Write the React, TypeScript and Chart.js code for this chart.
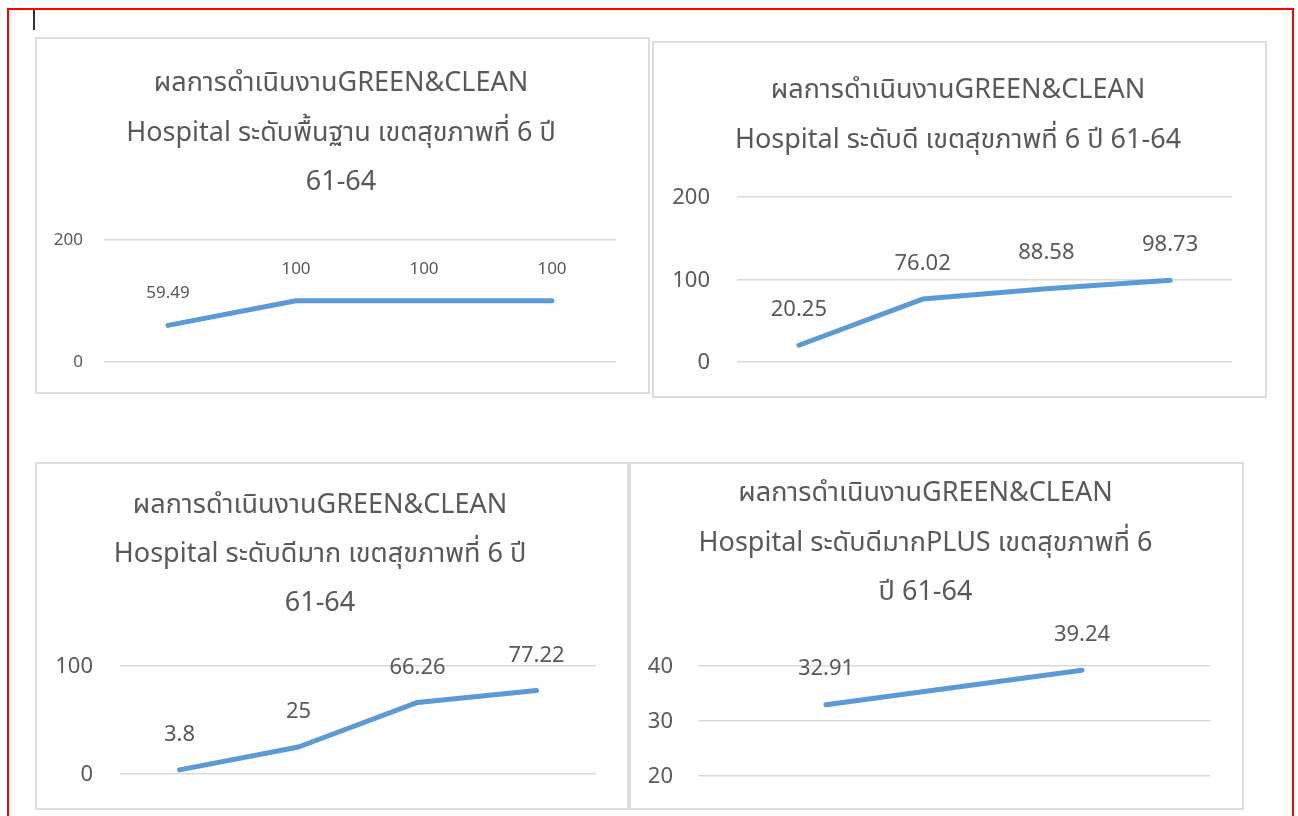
import React, { useEffect, useRef } from "react";
import { Chart, registerables } from "chart.js";

Chart.register(...registerables);

// ---------- data ----------
const yearLabels4 = ["ปี 61", "ปี 62", "ปี 63", "ปี 64"];
const yearLabels2 = ["ปี 63", "ปี 64"];

const basicValues = [59.49, 100, 100, 100];
const goodValues = [20.25, 76.02, 88.58, 98.73];
const veryGoodValues = [3.8, 25, 66.26, 77.22];
const plusValues = [32.91, 39.24];

const basicTitle = ["ผลการดำเนินงานGREEN&CLEAN", "Hospital ระดับพื้นฐาน เขตสุขภาพที่ 6 ปี", "61-64"];
const goodTitle = ["ผลการดำเนินงานGREEN&CLEAN", "Hospital ระดับดี เขตสุขภาพที่ 6 ปี 61-64"];
const veryGoodTitle = ["ผลการดำเนินงานGREEN&CLEAN", "Hospital ระดับดีมาก เขตสุขภาพที่ 6 ปี", "61-64"];
const plusTitle = ["ผลการดำเนินงานGREEN&CLEAN", "Hospital ระดับดีมากPLUS เขตสุขภาพที่ 6", "ปี 61-64"];

const basicTicks = [0, 200, 200]; // min, max, step
const goodTicks = [0, 200, 100];
const veryGoodTicks = [0, 100, 100];
const plusTicks = [20, 40, 10];

// ---------- style ----------
const FONT = '"Noto Sans Thai", "Leelawadee UI", Tahoma, "Liberation Sans", "Noto Sans", sans-serif';
const GRAY = "#595959";
const LINE = "#5B9BD5";

type PanelSpec = {
  left: number;
  top: number;
  width: number;
  height: number;
  labels: string[];
  values: number[];
  title: string[];
  ticks: number[];
  titleSize: number;
  titleLine: number;
  titlePadTop: number;
  titlePadBottom: number;
  axisWidth: number;
  rightAxisWidth: number;
  tickPad: number;
  tickSize: number;
  tickShift: number;
  labelSize: number;
  labelOffset: number;
  padRight: number;
  padBottom: number;
};

function ChartPanel({ spec }: { spec: PanelSpec }) {
  const ref = useRef<HTMLCanvasElement | null>(null);
  useEffect(() => {
    const canvas = ref.current;
    if (!canvas) return;
    const labelPlugin = {
      id: "pointValueLabels",
      afterDatasetsDraw(chart: any) {
        const ctx = chart.ctx;
        const meta = chart.getDatasetMeta(0);
        const data = chart.data.datasets[0].data as number[];
        ctx.save();
        ctx.font = `${spec.labelSize}px ${FONT}`;
        ctx.fillStyle = GRAY;
        ctx.textAlign = "center";
        ctx.textBaseline = "middle";
        meta.data.forEach((pt: any, i: number) => {
          ctx.fillText(String(data[i]), pt.x, pt.y - spec.labelOffset);
        });
        ctx.restore();
      },
    };
    const chart = new Chart(canvas, {
      type: "line",
      data: {
        labels: spec.labels,
        datasets: [
          {
            data: spec.values,
            borderColor: LINE,
            backgroundColor: LINE,
            borderWidth: 5,
            borderCapStyle: "round",
            borderJoinStyle: "round",
            pointRadius: 0,
            pointHoverRadius: 0,
            tension: 0,
            fill: false,
          },
        ],
      },
      options: {
        animation: false,
        responsive: false,
        events: [],
        layout: { padding: { top: 0, left: 0, right: spec.padRight, bottom: spec.padBottom } },
        plugins: {
          legend: { display: false },
          tooltip: { enabled: false },
          title: {
            display: true,
            text: spec.title,
            color: GRAY,
            font: { family: FONT, size: spec.titleSize, weight: "normal", lineHeight: spec.titleLine / spec.titleSize },
            padding: { top: spec.titlePadTop, bottom: spec.titlePadBottom },
          },
        },
        scales: {
          x: { display: false, offset: true },
          y: {
            min: spec.ticks[0],
            max: spec.ticks[1],
            ticks: {
              stepSize: spec.ticks[2],
              color: GRAY,
              font: { family: FONT, size: spec.tickSize },
              padding: spec.tickPad,
              labelOffset: spec.tickShift,
            },
            grid: { color: "#d9d9d9", lineWidth: 1.5, drawTicks: false },
            border: { display: false },
            afterFit: (s: any) => {
              s.width = spec.axisWidth;
              s.paddingTop = 0;
              s.paddingBottom = 0;
            },
          },
          yRight: {
            position: "right",
            display: true,
            min: spec.ticks[0],
            max: spec.ticks[1],
            ticks: { display: false },
            grid: { display: false, drawTicks: false },
            border: { display: false },
            afterFit: (s: any) => {
              s.width = spec.rightAxisWidth;
              s.paddingTop = 0;
              s.paddingBottom = 0;
            },
          },
        },
      },
      plugins: [labelPlugin],
    } as any);
    return () => chart.destroy();
  }, [spec]);

  return (
    <>
      <div
        style={{
          position: "absolute",
          left: spec.left,
          top: spec.top,
          width: spec.width,
          height: spec.height,
          background: "#fff",
        }}
      >
        <canvas ref={ref} width={spec.width} height={spec.height} style={{ display: "block" }} />
      </div>
      <div
        style={{
          position: "absolute",
          left: spec.left,
          top: spec.top,
          width: spec.width,
          height: spec.height,
          boxSizing: "border-box",
          border: "2px solid #dcdcdc",
          pointerEvents: "none",
        }}
      />
    </>
  );
}

const panels: PanelSpec[] = [
  {
    left: 35, top: 37, width: 615, height: 357,
    labels: yearLabels4, values: basicValues, title: basicTitle, ticks: basicTicks,
    titleSize: 27, titleLine: 49.5, titlePadTop: 24, titlePadBottom: 30.5,
    axisWidth: 69, rightAxisWidth: 31, tickPad: 21, tickSize: 17, tickShift: 2, labelSize: 17, labelOffset: 30.5,
    padRight: 3, padBottom: 32.5,
  },
  {
    left: 652, top: 41, width: 615, height: 357,
    labels: yearLabels4, values: goodValues, title: goodTitle, ticks: goodTicks,
    titleSize: 27, titleLine: 50, titlePadTop: 27, titlePadBottom: 28.5,
    axisWidth: 85, rightAxisWidth: 32, tickPad: 27, tickSize: 22, tickShift: 3, labelSize: 22, labelOffset: 34,
    padRight: 3, padBottom: 36,
  },
  {
    left: 35, top: 462, width: 594, height: 348,
    labels: yearLabels4, values: veryGoodValues, title: veryGoodTitle, ticks: veryGoodTicks,
    titleSize: 27, titleLine: 49, titlePadTop: 21.5, titlePadBottom: 35.5,
    axisWidth: 85, rightAxisWidth: 9, tickPad: 27, tickSize: 22, tickShift: 3, labelSize: 22, labelOffset: 33,
    padRight: 24, padBottom: 36,
  },
  {
    left: 629, top: 462, width: 615, height: 348,
    labels: yearLabels2, values: plusValues, title: plusTitle, ticks: plusTicks,
    titleSize: 27, titleLine: 49.5, titlePadTop: 9, titlePadBottom: 46.5,
    axisWidth: 69, rightAxisWidth: 12, tickPad: 25, tickSize: 22, tickShift: 3, labelSize: 22, labelOffset: 34,
    padRight: 22, padBottom: 34.5,
  },
];

export default function App() {
  return (
    <div
      style={{
        position: "absolute",
        left: 0,
        top: 0,
        width: 1298,
        height: 816,
        overflow: "hidden",
        background: "#fff",
      }}
    >
      <div
        style={{
          position: "absolute",
          left: 7,
          top: 8,
          width: 1287,
          height: 840,
          boxSizing: "border-box",
          border: "2px solid #ff0000",
        }}
      />
      <div style={{ position: "absolute", left: 33, top: 10, width: 2, height: 20, background: "#333" }} />
      {panels.map((p, i) => (
        <ChartPanel key={i} spec={p} />
      ))}
    </div>
  );
}
